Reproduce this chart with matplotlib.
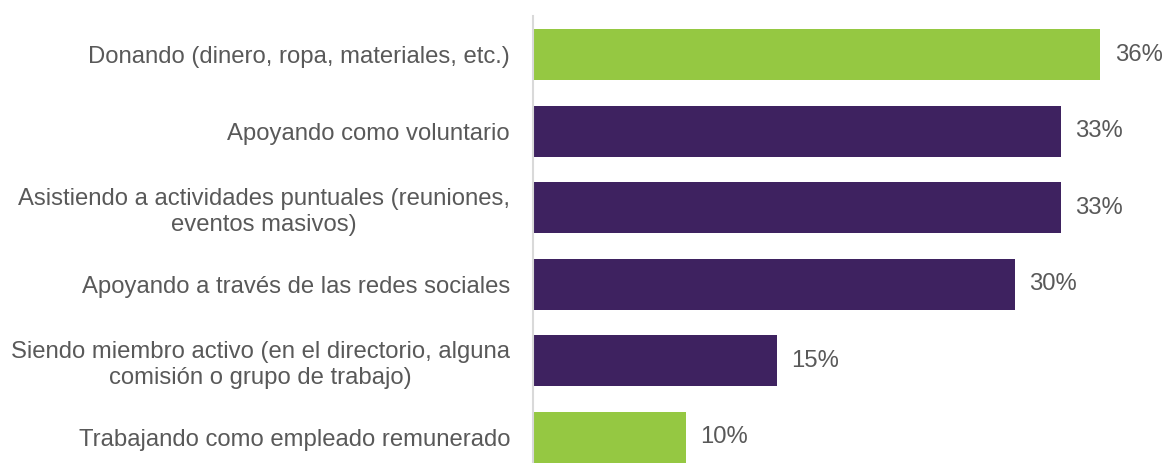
import matplotlib.pyplot as plt

categorias = [
    "Donando (dinero, ropa, materiales, etc.)",
    "Apoyando como voluntario",
    "Asistiendo a actividades puntuales (reuniones,\neventos masivos)",
    "Apoyando a través de las redes sociales",
    "Siendo miembro activo (en el directorio, alguna\ncomisión o grupo de trabajo)",
    "Trabajando como empleado remunerado",
]
valores = [36.0, 33.5, 33.5, 30.6, 15.5, 9.7]
etiquetas = ["36%", "33%", "33%", "30%", "15%", "10%"]
colores = ["#95C842", "#3E2260", "#3E2260", "#3E2260", "#3E2260", "#95C842"]

plt.rcParams['font.family'] = ['Liberation Sans', 'DejaVu Sans']

fig = plt.figure(figsize=(11.65, 4.63), dpi=100)
ax = fig.add_axes([533 / 1165, 0.0, 1 - 533 / 1165, 1 - 16 / 463])

pos = list(range(len(categorias)))
ax.barh(pos, valores, height=0.667, color=colores)

for p, v, t in zip(pos, valores, etiquetas):
    ax.text(v + 0.9, p, t, va='center', ha='left', fontsize=17.2, color='#595959')

ax.set_ylim(5.333, -0.503)
ax.set_xlim(0, 40.1)
ax.set_yticks(pos)
ax.set_yticklabels(categorias, fontsize=17.2, color='#595959',
                   multialignment='center', linespacing=1.22)
ax.tick_params(axis='y', length=0, pad=16.5)
ax.set_xticks([])

for s in ['top', 'right', 'bottom']:
    ax.spines[s].set_visible(False)
ax.spines['left'].set_color('#D9D9D9')
ax.spines['left'].set_linewidth(1.5)

fig.savefig('out.png', dpi=100)
